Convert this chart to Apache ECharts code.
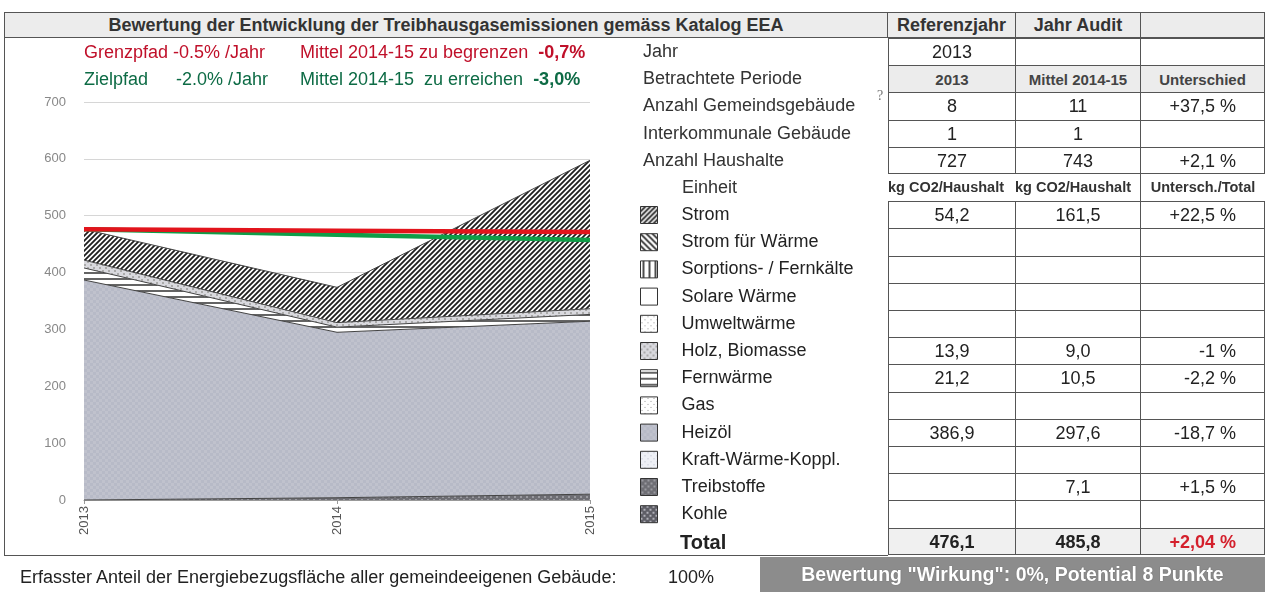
<!DOCTYPE html>
<html>
<head>
<meta charset="utf-8">
<script src="https://cdn.jsdelivr.net/npm/echarts@6/dist/echarts.min.js"></script>
<style>
  body { margin: 0; background: #fff; font-family: "Liberation Sans", Arial, sans-serif; }
  #chart { position: absolute; left: 0; top: 0; width: 1267px; height: 592px; }
  #overlay { position: absolute; left: 0; top: 0; width: 1267px; height: 592px; pointer-events: none; }
  .t { position: absolute; white-space: nowrap; overflow: hidden; box-sizing: border-box; color: #222; }
</style>
</head>
<body>
<div id="chart"></div>
<div id="overlay"></div>
<script>
// Jahre und Werte (kg CO2 pro Haushalt)
var years = ['2013', '2014', '2015'];
var strom = [54.2, 62, 261];
var stromWaerme = [0, 0, 0];
var sorption = [0, 0, 0];
var solar = [0, 0, 0];
var umwelt = [0, 0, 0];
var holz = [13.9, 8, 10];
var fernwaerme = [21.2, 9, 12];
var gas = [0, 0, 0];
var heizoel = [386.9, 291, 304.2];
var kwk = [0, 0, 0];
var treibstoffe = [0, 4, 10.2];
var kohle = [0, 0, 0];
var grenzpfad = [476.1, 473.7, 471.3];
var zielpfad = [476.1, 466.6, 457.3];
var yTicks = [0, 100, 200, 300, 400, 500, 600, 700];

// Tabelle rechts
var rowLabels = ['Jahr', 'Betrachtete Periode', 'Anzahl Gemeindsgebäude', 'Interkommunale Gebäude', 'Anzahl Haushalte'];
var colRef = ['2013', '2013', '8', '1', '727', 'kg CO2/Haushalt', '54,2', '', '', '', '', '13,9', '21,2', '', '386,9', '', '', '', '476,1'];
var colAudit = ['', 'Mittel 2014-15', '11', '1', '743', 'kg CO2/Haushalt', '161,5', '', '', '', '', '9,0', '10,5', '', '297,6', '', '7,1', '', '485,8'];
var colDiff = ['', 'Unterschied', '+37,5 %', '', '+2,1 %', 'Untersch./Total', '+22,5 %', '', '', '', '', '-1 %', '-2,2 %', '', '-18,7 %', '', '+1,5 %', '', '+2,04 %'];

var FONT = '"Liberation Sans", Arial, sans-serif';

function makePattern(kind) {
    var s = 6;
    var c = document.createElement('canvas');
    c.width = s; c.height = s;
    var g = c.getContext('2d');
    g.fillStyle = '#fff';
    g.fillRect(0, 0, s, s);
    g.strokeStyle = '#222';
    g.lineWidth = 1.6;
    if (kind === 'slash') {
        s = 5; c.width = s; c.height = s;
        g.fillStyle = '#fff'; g.fillRect(0, 0, s, s);
        g.strokeStyle = '#1e1e1e'; g.lineWidth = 1.8;
        g.beginPath();
        g.moveTo(-1, s + 1); g.lineTo(s + 1, -1);
        g.moveTo(-1, 1); g.lineTo(1, -1);
        g.moveTo(s - 1, s + 1); g.lineTo(s + 1, s - 1);
        g.stroke();
    } else if (kind === 'backslash') {
        g.beginPath();
        g.moveTo(-1, -1); g.lineTo(s + 1, s + 1);
        g.moveTo(s - 1, -1); g.lineTo(s + 1, 1);
        g.moveTo(-1, s - 1); g.lineTo(1, s + 1);
        g.stroke();
    } else if (kind === 'vertical') {
        g.beginPath(); g.moveTo(3, 0); g.lineTo(3, s); g.stroke();
    } else if (kind === 'horizontal') {
        g.lineWidth = 1.4;
        g.beginPath(); g.moveTo(0, 3); g.lineTo(s, 3); g.stroke();
    } else if (kind === 'dots') {
        g.fillStyle = '#999'; g.fillRect(1, 1, 1, 1); g.fillRect(4, 4, 1, 1);
    } else if (kind === 'holz') {
        g.fillStyle = '#d9d9de'; g.fillRect(0, 0, s, s);
        g.fillStyle = '#aaa'; g.fillRect(0, 0, 2, 2); g.fillRect(3, 3, 2, 2);
    } else if (kind === 'heizoel') {
        g.fillStyle = '#b7bac7'; g.fillRect(0, 0, s, s);
        g.fillStyle = '#c0c2cd'; g.fillRect(0, 0, 3, 3); g.fillRect(3, 3, 3, 3);
    } else if (kind === 'kwk') {
        g.fillStyle = '#eef0f6'; g.fillRect(0, 0, s, s);
        g.fillStyle = '#b8bccc'; g.fillRect(1, 1, 1, 1); g.fillRect(4, 4, 1, 1);
    } else if (kind === 'treib') {
        g.fillStyle = '#6e6e74'; g.fillRect(0, 0, s, s);
        g.fillStyle = '#9a9aa0'; g.fillRect(1, 1, 2, 2); g.fillRect(4, 4, 2, 2);
    } else if (kind === 'kohle') {
        g.fillStyle = '#5e5e66'; g.fillRect(0, 0, s, s);
        g.fillStyle = '#b0b0b8'; g.fillRect(0, 0, 2, 2); g.fillRect(3, 3, 2, 2);
    }
    return { image: c, repeat: 'repeat' };
}

var layers = [
    { name: 'Strom', data: strom, fill: makePattern('slash') },
    { name: 'Strom für Wärme', data: stromWaerme, fill: makePattern('backslash') },
    { name: 'Sorptions- / Fernkälte', data: sorption, fill: makePattern('vertical') },
    { name: 'Solare Wärme', data: solar, fill: makePattern('blank') },
    { name: 'Umweltwärme', data: umwelt, fill: makePattern('dots') },
    { name: 'Holz, Biomasse', data: holz, fill: makePattern('holz') },
    { name: 'Fernwärme', data: fernwaerme, fill: makePattern('horizontal') },
    { name: 'Gas', data: gas, fill: makePattern('dots') },
    { name: 'Heizöl', data: heizoel, fill: makePattern('heizoel') },
    { name: 'Kraft-Wärme-Koppl.', data: kwk, fill: makePattern('kwk') },
    { name: 'Treibstoffe', data: treibstoffe, fill: makePattern('treib') },
    { name: 'Kohle', data: kohle, fill: makePattern('kohle') }
];

var series = [];
// unterste Schicht zuerst stapeln
layers.slice().reverse().forEach(function (l) {
    var empty = l.data.every(function (v) { return v === 0; });
    series.push({
        name: l.name,
        type: 'line',
        stack: 'co2',
        data: l.data,
        symbol: 'none',
        lineStyle: { width: empty ? 0 : 1, color: '#444' },
        itemStyle: { color: l.fill },
        areaStyle: { color: l.fill, opacity: 1 },
        z: 2
    });
});
series.push({
    name: 'Zielpfad', type: 'line', data: zielpfad, symbol: 'none',
    lineStyle: { width: 4.5, color: '#0f9d48' }, z: 5
});
series.push({
    name: 'Grenzpfad', type: 'line', data: grenzpfad, symbol: 'none',
    lineStyle: { width: 4.5, color: '#e2141c' }, z: 6
});

var myChart = echarts.init(document.getElementById('chart'));
var option = {
    animation: false,
    grid: { left: 84, right: 677, top: 102, bottom: 92 },
    legend: {
        orient: 'vertical',
        left: 640,
        top: 206,
        padding: 0,
        icon: 'rect',
        itemWidth: 17,
        itemHeight: 17,
        itemGap: 9.2,
        selectedMode: false,
        textStyle: { fontSize: 18, color: '#222', fontFamily: FONT, lineHeight: 17, padding: [0, 0, 0, 19] },
        data: layers.map(function (l) {
            return { name: l.name, itemStyle: { color: l.fill, borderColor: '#333', borderWidth: 1 } };
        })
    },
    xAxis: {
        type: 'category',
        boundaryGap: false,
        data: years,
        axisLine: { lineStyle: { color: '#999' } },
        axisTick: { length: 4, lineStyle: { color: '#999' } },
        axisLabel: { rotate: 90, color: '#555', fontSize: 13, fontFamily: FONT, margin: 6 }
    },
    yAxis: {
        type: 'value',
        min: yTicks[0],
        max: yTicks[yTicks.length - 1],
        interval: 100,
        axisLine: { show: false },
        axisTick: { show: false },
        axisLabel: { color: '#888', fontSize: 13, fontFamily: FONT, margin: 18 },
        splitLine: { lineStyle: { color: '#d6d6d6' } }
    },
    series: series
};
myChart.setOption(option);

// Tabelle und Texte
var ov = document.getElementById('overlay');
function box(x, y, w, h, html, css) {
    var d = document.createElement('div');
    d.className = 't';
    d.style.left = x + 'px'; d.style.top = y + 'px';
    d.style.width = w + 'px'; d.style.height = h + 'px';
    d.style.lineHeight = h + 'px';
    d.innerHTML = html;
    if (css) d.style.cssText += css;
    ov.appendChild(d);
    return d;
}
var B = '1px solid #555';
var rowH = 27.2, top0 = 38;
var cols = [888, 1015, 1140, 1265];

// Kopfzeile
box(4, 12, 884, 26, 'Bewertung der Entwicklung der Treibhausgasemissionen gemäss Katalog EEA',
    'background:#ececec;border:' + B + ';text-align:center;font-weight:bold;font-size:18px;color:#333;line-height:24px;');
box(888, 12, 127, 26, 'Referenzjahr', 'background:#ececec;border-top:' + B + ';border-bottom:' + B + ';text-align:center;font-weight:bold;font-size:18px;color:#333;line-height:24px;');
box(1015, 12, 125, 26, 'Jahr Audit', 'background:#ececec;border:' + B + ';border-right:none;text-align:center;font-weight:bold;font-size:18px;color:#333;line-height:24px;');
box(1140, 12, 125, 26, '', 'background:#ececec;border:' + B + ';');

// Rahmen Diagrammbereich
box(4, 38, 1, 518, '', 'background:#555;');
box(4, 555, 884, 1, '', 'background:#555;');

// Pfad-Texte
var red = '#c0102a', green = '#0d6b45';
box(84, 40, 220, 24, 'Grenzpfad -0.5% /Jahr', 'color:' + red + ';font-size:18px;');
box(300, 40, 330, 24, 'Mittel 2014-15 zu begrenzen&nbsp; <b>-0,7%</b>', 'color:' + red + ';font-size:18px;');
box(84, 67, 100, 24, 'Zielpfad', 'color:' + green + ';font-size:18px;');
box(176, 67, 124, 24, '-2.0% /Jahr', 'color:' + green + ';font-size:18px;');
box(300, 67, 330, 24, 'Mittel 2014-15&nbsp; zu erreichen&nbsp; <b>-3,0%</b>', 'color:' + green + ';font-size:18px;');

// Zeilenbeschriftungen
rowLabels.forEach(function (lab, i) {
    box(643, top0 + i * rowH, 240, rowH, lab, 'font-size:18px;color:#333;');
});
box(877, top0 + 2 * rowH - 6, 12, 20, '?', 'font-size:14px;color:#777;font-family:serif;');
box(682, top0 + 5 * rowH, 200, rowH, 'Einheit', 'font-size:18px;color:#333;');
box(680, top0 + 18 * rowH + 1, 200, rowH, 'Total', 'font-size:20px;font-weight:bold;color:#222;');

// Zellen
for (var r = 0; r < 19; r++) {
    var y = top0 + r * rowH;
    var vals = [colRef[r], colAudit[r], colDiff[r]];
    for (var c = 0; c < 3; c++) {
        var x = cols[c], w = cols[c + 1] - cols[c];
        var css = 'font-size:18px;color:#222;';
        if (r === 5) {
            css += 'font-size:14.5px;font-weight:bold;color:#333;overflow:visible;';
            css += c === 2 ? 'text-align:center;border-left:' + B + ';' : 'text-align:left;padding-left:0;';
        } else {
            css += 'border-left:' + B + ';border-top:' + B + ';';
            if (c === 2) css += 'border-right:' + B + ';';
            if (r === 4 || r === 18) css += 'border-bottom:' + B + ';';
            if (c === 2) css += 'text-align:right;padding-right:28px;';
            else css += 'text-align:center;';
            if (r === 1) css += 'background:#ececec;font-size:15px;font-weight:bold;color:#444;';
            if (c === 2 && r === 1) css += 'text-align:center;padding-right:0;';
            if (r === 18) css += 'background:#f0f0f0;font-weight:bold;';
            if (r === 18 && c === 2) css += 'color:#d4202c;';
        }
        box(x, y, w, rowH, vals[c], css);
    }
}

// Fusszeile
box(20, 562, 640, 30, 'Erfasster Anteil der Energiebezugsfläche aller gemeindeeigenen Gebäude:', 'font-size:18px;color:#222;');
box(668, 562, 80, 30, '100%', 'font-size:18px;color:#222;');
box(760, 557, 505, 35, 'Bewertung "Wirkung": 0%, Potential 8 Punkte',
    'background:#8c8c8c;color:#fff;font-weight:bold;font-size:19.5px;text-align:center;text-shadow:0 0 1px #555;');
</script>
</body>
</html>
